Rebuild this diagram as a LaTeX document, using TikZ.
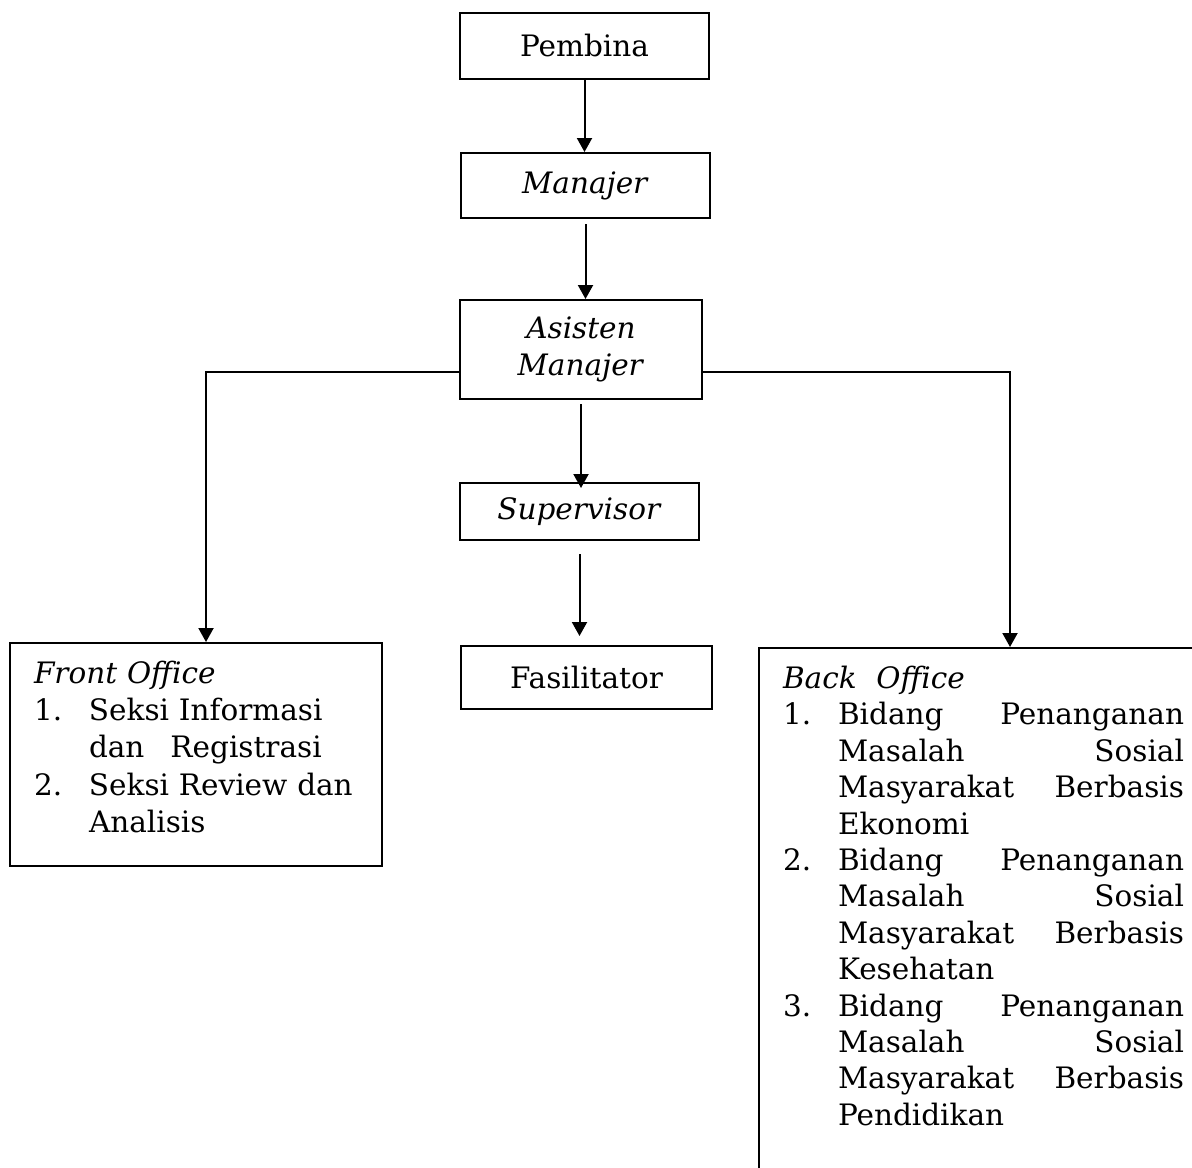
\documentclass[tikz,border=0pt]{standalone}
\usepackage{fontspec}
\setmainfont{DejaVu Serif}
\usetikzlibrary{arrows.meta, positioning}
\tikzset{
  every picture/.style={line width=1pt},
  box/.style={draw, rectangle, inner sep=0pt, align=center},
  listbox/.style={draw, rectangle, anchor=north west, inner xsep=12pt, inner ysep=9pt, align=left},
  arrow/.style={-{Triangle[length=7pt, width=7.5pt]}, draw},
}
\newcommand{\itemno}[1]{\makebox[27.5pt][l]{#1}}
\newcommand{\cont}{\hspace*{27.5pt}}
\newcommand{\jline}[2]{\makebox[173pt][l]{#1\hfill#2}}

\begin{document}
\begin{tikzpicture}[x=0.5pt, y=-0.5pt, font=\fontsize{14.75}{18.6}\selectfont]
  \useasboundingbox (0,0) rectangle (1192,1167);

  % chain in the middle
  \node[box, minimum width=124.5pt, minimum height=33pt] (pembina) at (584.5,46) {Pembina};
  \node[box, minimum width=124.5pt, minimum height=32.5pt] (manajer) at (585.5,185.5) {\textit{Manajer}};
  \node[box, minimum width=121pt, minimum height=49.5pt] (asisten) at (581,349.5) {\textit{Asisten}\\\textit{Manajer}};
  \node[box, minimum width=119.5pt, minimum height=28.5pt] (supervisor) at (579.5,511.5) {\textit{Supervisor}};
  \node[box, minimum width=125.5pt, minimum height=31.5pt] (fasil) at (586.5,677.5) {Fasilitator};

  % offices
  \node[listbox, text width=162pt] (front) at (9,642) {%
    \textit{Front Office}\\
    \itemno{1.}Seksi Informasi\\
    \cont dan\hspace{13pt}Registrasi\\
    \itemno{2.}Seksi Review dan\\
    \cont Analisis\rule[-8pt]{0pt}{0pt}};
  \node[listbox, text width=201pt, font=\fontsize{14.75}{18.2}\selectfont] (back) at (758,647) {%
    \textit{Back\ \ Office}\\
    \itemno{1.}\jline{Bidang}{Penanganan}\\
    \cont\jline{Masalah}{Sosial}\\
    \cont\jline{Masyarakat}{Berbasis}\\
    \cont Ekonomi\\
    \itemno{2.}\jline{Bidang}{Penanganan}\\
    \cont\jline{Masalah}{Sosial}\\
    \cont\jline{Masyarakat}{Berbasis}\\
    \cont Kesehatan\\
    \itemno{3.}\jline{Bidang}{Penanganan}\\
    \cont\jline{Masalah}{Sosial}\\
    \cont\jline{Masyarakat}{Berbasis}\\
    \cont Pendidikan\rule[-30pt]{0pt}{0pt}};

  % links
  \draw[arrow] (pembina.south) -- (pembina.south |- manajer.north);
  \draw[arrow, shorten <=2.5pt] (manajer.south) -- (manajer.south |- asisten.north);
  \draw[arrow, shorten <=2pt, shorten >=-3pt] (asisten.south) -- (asisten.south |- supervisor.north);
  \draw[arrow, shorten <=6.5pt, shorten >=4.5pt] (supervisor.south) -- (supervisor.south |- fasil.north);
  \draw[arrow] ([yshift=-11.25pt]asisten.west) -| ([xshift=98.5pt]front.north west);
  \draw[arrow] ([yshift=-11.25pt]asisten.east) -| ([xshift=126pt]back.north west);
\end{tikzpicture}
\end{document}
